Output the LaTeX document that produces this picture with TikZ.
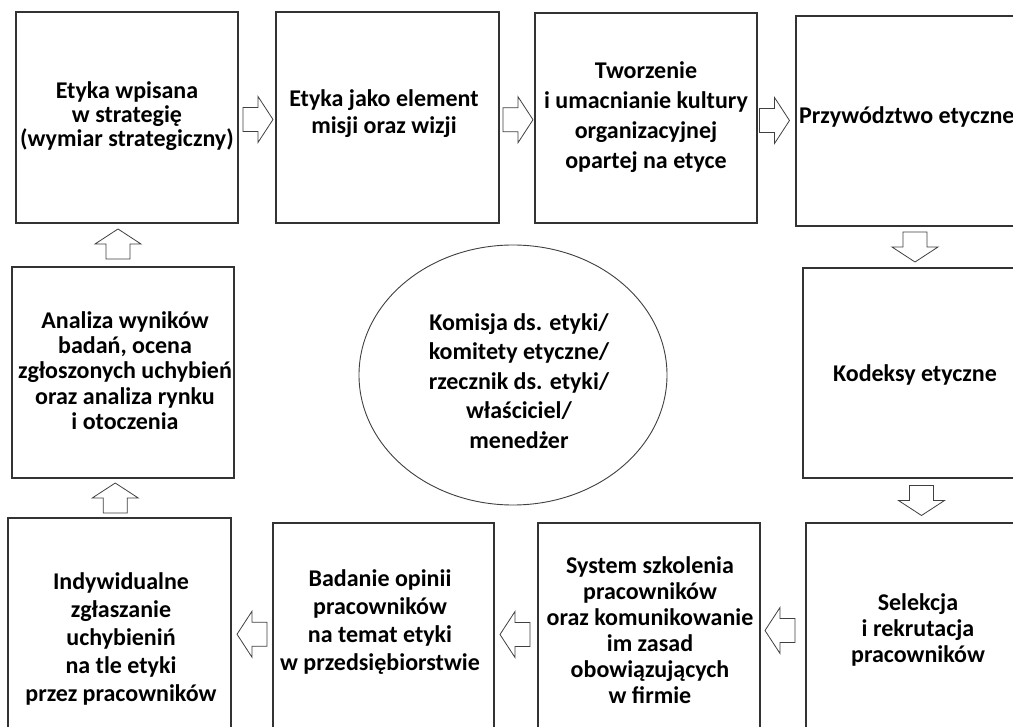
\documentclass[tikz,border=0pt]{standalone}
\usepackage{fontspec}
\setmainfont{Carlito}
\usetikzlibrary{calc,shapes.geometric}
\tikzset{
  box/.style={draw=black!80, line width=1.1pt, inner sep=0pt, fill=white},
  lbl/.style={align=center, inner sep=0pt, font=\fontsize{24}{#1}\selectfont\bfseries},
  lbl/.default=28,
  blk/.style={draw=black!75, line width=0.8pt, fill=white, line join=miter},
  oval/.style={draw=black!75, line width=0.9pt, ellipse, inner sep=0pt}
}
\newcommand\blkarrow[2]{%
  \draw[blk, shift={(#1)}, rotate=#2]
    (-15,-12) -- (0,-12) -- (0,-23) -- (15,0) -- (0,23) -- (0,12) -- (-15,12) -- cycle;}
\begin{document}
\begin{tikzpicture}[x=1pt, y=-1pt]
\useasboundingbox (0,0) rectangle (1013,727);
\clip (0,0) rectangle (1013,727);
\fill[white] (0,0) rectangle (1013,727);

% boxes
\node[box, minimum width=222, minimum height=211] (b1) at (127,117.5) {};
\node[box, minimum width=223, minimum height=211] (b2) at (387.5,117.5) {};
\node[box, minimum width=222, minimum height=210] (b3) at (646,118) {};
\node[box, minimum width=224, minimum height=210] (b4) at (908,121) {};
\node[box, minimum width=224, minimum height=210] (b5) at (915,373) {};
\node[box, minimum width=224, minimum height=217] (b6) at (918,631.5) {};
\node[box, minimum width=222, minimum height=217] (b7) at (649,631.5) {};
\node[box, minimum width=221, minimum height=217] (b8) at (383.5,631.5) {};
\node[box, minimum width=223, minimum height=222] (b9) at (119.5,629) {};
\node[box, minimum width=222, minimum height=211] (b10) at (123,372.5) {};
\node[oval, minimum width=308, minimum height=260] (c) at (513,375) {};

% labels
\node[lbl=24] (t1) at (127,116) {Etyka wpisana\\w strategię\\(wymiar strategiczny)};
\node[lbl=27] (t2) at (384,113.5) {Etyka jako element\\misji oraz wizji};
\node[lbl=30] (t3) at (646,117) {Tworzenie\\i umacnianie kultury\\organizacyjnej\\opartej na etyce};
\node[lbl, anchor=west] (t4) at (799,117) {Przywództwo etyczne};
\node[lbl] (t5) at (915,375) {Kodeksy etyczne};
\node[lbl=26] (t6) at (918,630) {Selekcja\\i rekrutacja\\pracowników};
\node[lbl=26] (t7) at (650,630.5) {System szkolenia\\pracowników\\oraz komunikowanie\\im zasad\\obowiązujących\\w firmie};
\node[lbl=28] (t8) at (380,622.5) {Badanie opinii\\pracowników\\na temat etyki\\w przedsiębiorstwie};
\node[lbl=28] (t9) at (121,639) {Indywidualne\\zgłaszanie\\uchybieniń\\na tle etyki\\przez pracowników};
\node[lbl=25.2] (t10) at (125,370.5) {Analiza wyników\\badań, ocena\\zgłoszonych uchybień\\oraz analiza rynku\\i otoczenia};
\node[lbl=29.5] (ct) at (519,381) {Komisja ds. etyki/\\komitety etyczne/\\rzecznik ds. etyki/\\właściciel/\\menedżer};

% block arrows
\coordinate (m12) at ($(b1.east)!0.5!(b2.west)+(1,2)$);
\coordinate (m23) at ($(b2.east)!0.5!(b3.west)+(1,2)$);
\coordinate (m34) at ($(b3.east)!0.5!(b4.west)+(-2,1)$);
\coordinate (m45) at ($(b4.south -| b5.north)!0.5!(b5.north)$);
\coordinate (m56) at ($(b5.south)!0.5!(b6.north)+(5,0)$);
\coordinate (m67) at ($(b6.west)!0.5!(b7.east)+(-3,-1)$);
\coordinate (m78) at ($(b7.west)!0.5!(b8.east)+(-1,3)$);
\coordinate (m89) at ($(b8.west)!0.5!(b9.east)+(0,4)$);
\coordinate (m910) at ($(b9.north)!0.5!(b10.south)+(-6,0)$);
\coordinate (m101) at ($(b10.north)!0.5!(b1.south)+(-7,-1)$);
\blkarrow{m12}{0}
\blkarrow{m23}{0}
\blkarrow{m34}{0}
\blkarrow{m45}{-90}
\blkarrow{m56}{-90}
\blkarrow{m67}{180}
\blkarrow{m78}{180}
\blkarrow{m89}{180}
\blkarrow{m910}{90}
\blkarrow{m101}{90}
\end{tikzpicture}
\end{document}
